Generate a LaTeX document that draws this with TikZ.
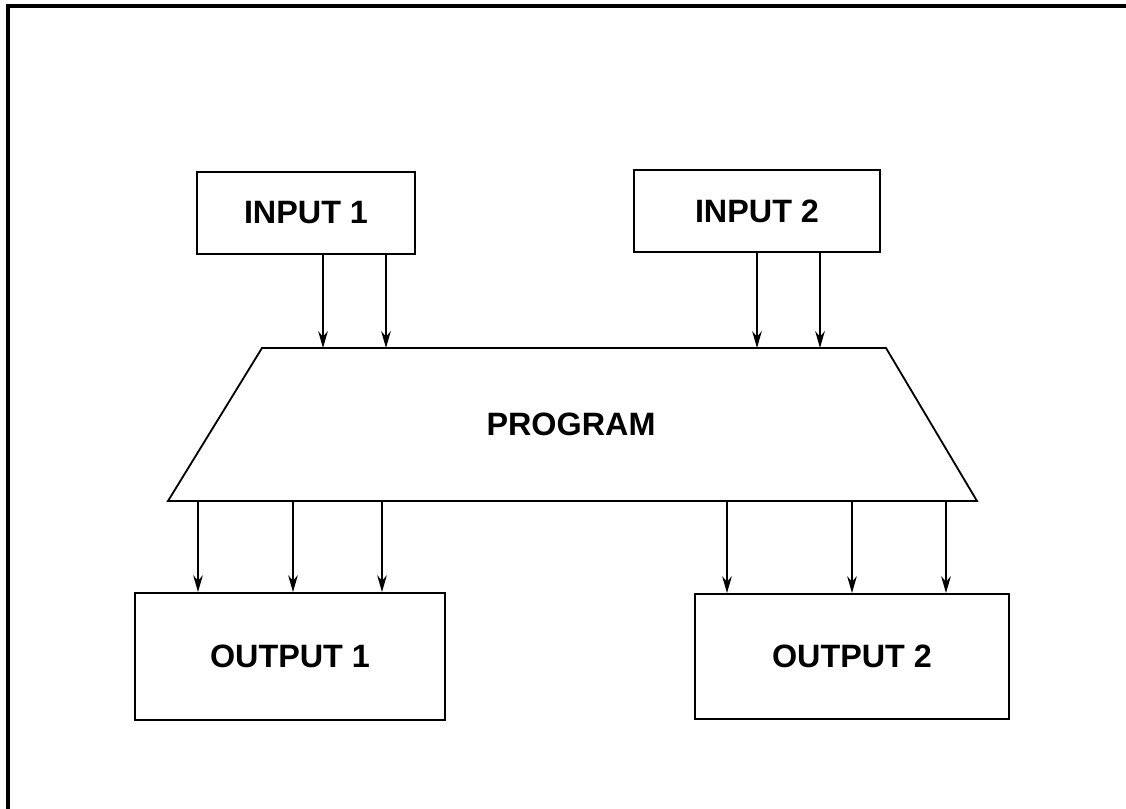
\documentclass[tikz,border=0pt]{standalone}
\usepackage{fontspec}
\setmainfont{Liberation Sans}
\usetikzlibrary{arrows.meta}

\tikzset{
  unitbox/.style={draw,line width=1.3pt,inner sep=0pt,font=\bfseries\fontsize{23}{27}\selectfont},
  flowarrow/.style={line width=1.3pt,-{Stealth[length=0.42cm,width=0.24cm]}}
}

\begin{document}
\begin{tikzpicture}[x=0.025cm,y=-0.025cm]
  \useasboundingbox (0,0) rectangle (1126,809);

  % frame (only top and left edges show)
  \draw[line width=2.2pt] (1126,6) -- (8,6) -- (8,809);

  % Inputs
  \node[unitbox,minimum width=5.45cm,minimum height=2.05cm] (in1) at (306,213) {INPUT 1};
  \node[unitbox,minimum width=6.15cm,minimum height=2.05cm] (in2) at (757,211) {INPUT 2};

  % Program
  \coordinate (progTL) at (262,348);
  \coordinate (progTR) at (886,348);
  \coordinate (progBR) at (977,501);
  \coordinate (progBL) at (168,501);
  \draw[line width=1.3pt,line join=miter] (progTL) -- (progTR) -- (progBR) -- (progBL) -- cycle;
  \node[font=\bfseries\fontsize{23}{27}\selectfont] (prog) at (571,424) {PROGRAM};

  % Outputs
  \node[unitbox,minimum width=7.75cm,minimum height=3.175cm] (out1) at (290,656.5) {OUTPUT 1};
  \node[unitbox,minimum width=7.85cm,minimum height=3.125cm] (out2) at (852,656.5) {OUTPUT 2};

  % input arrows
  \foreach \x in {323,386} {
    \draw[flowarrow] (in1.south -| \x,0) -- (progTL -| \x,0);
  }
  \foreach \x in {757,820} {
    \draw[flowarrow] (in2.south -| \x,0) -- (progTL -| \x,0);
  }

  % output arrows
  \foreach \x in {198,293,382} {
    \draw[flowarrow] (progBL -| \x,0) -- (out1.north -| \x,0);
  }
  \foreach \x in {727,852,946} {
    \draw[flowarrow] (progBL -| \x,0) -- (out2.north -| \x,0);
  }
\end{tikzpicture}
\end{document}
